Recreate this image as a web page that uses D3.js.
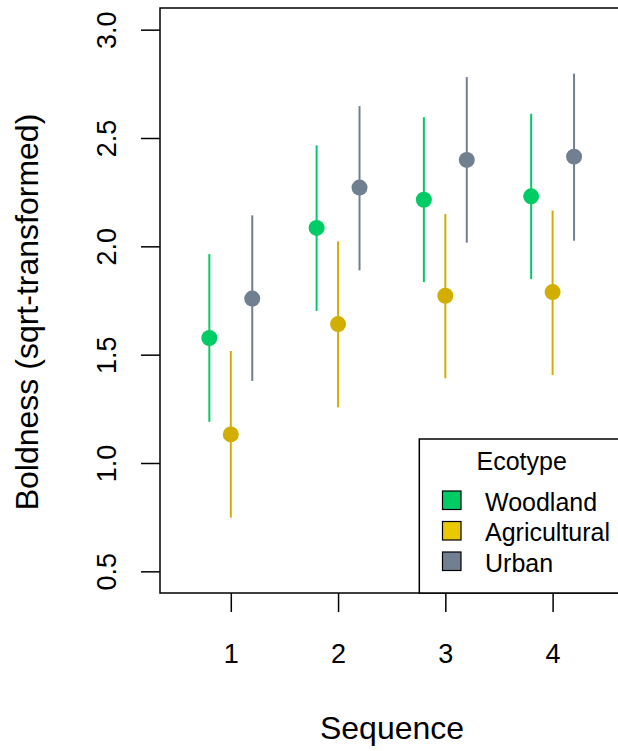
<!DOCTYPE html>
<html>
<head>
<meta charset="utf-8">
<script src="https://cdn.jsdelivr.net/npm/d3@7/dist/d3.min.js"></script>
<style>
  html, body { margin: 0; padding: 0; background: #fff; }
  svg { display: block; font-family: "Liberation Sans", Arial, sans-serif; }
</style>
</head>
<body>
<svg id="chart" width="618" height="751"></svg>
<script>
// ---- data ----
const sequences = [1, 2, 3, 4];
const ecotypes = ["Woodland", "Agricultural", "Urban"];
const offsets = [-0.2, 0, 0.2];
const pointColors = ["#00CC66", "#D2AE00", "#708090"];
const legendColors = ["#00CC66", "#EBC900", "#708090"];

const woodlandMean  = [1.577, 2.085, 2.215, 2.231];
const woodlandLower = [1.190, 1.702, 1.835, 1.849];
const woodlandUpper = [1.964, 2.466, 2.596, 2.612];

const agriMean  = [1.132, 1.641, 1.772, 1.789];
const agriLower = [0.748, 1.257, 1.391, 1.406];
const agriUpper = [1.517, 2.023, 2.149, 2.165];

const urbanMean  = [1.759, 2.271, 2.399, 2.414];
const urbanLower = [1.379, 1.889, 2.017, 2.026];
const urbanUpper = [2.143, 2.647, 2.781, 2.797];

const yTicks = [0.5, 1.0, 1.5, 2.0, 2.5, 3.0];
const xTicks = [1, 2, 3, 4];

const means  = [woodlandMean, agriMean, urbanMean];
const lowers = [woodlandLower, agriLower, urbanLower];
const uppers = [woodlandUpper, agriUpper, urbanUpper];

// ---- layout ----
const svg = d3.select("#chart");
const pLeft = 160, pRight = 623.4, pTop = 8, pBottom = 593;
const x = d3.scaleLinear().domain([0.34, 4.66]).range([pLeft, pRight]);
const y = d3.scaleLinear().domain([0.4, 3.1]).range([pBottom, pTop]);

// whiskers and points
ecotypes.forEach((e, i) => {
  const rows = sequences.map((s, j) => ({s, m: means[i][j], lo: lowers[i][j], hi: uppers[i][j]}));
  const g = svg.append("g");
  g.selectAll("line").data(rows).join("line")
    .attr("x1", d => x(d.s + offsets[i])).attr("x2", d => x(d.s + offsets[i]))
    .attr("y1", d => y(d.lo)).attr("y2", d => y(d.hi))
    .attr("stroke", pointColors[i]).attr("stroke-width", 2);
  g.selectAll("circle").data(rows).join("circle")
    .attr("cx", d => x(d.s + offsets[i])).attr("cy", d => y(d.m))
    .attr("r", 8).attr("fill", pointColors[i]);
});

// axes
const yAxis = svg.append("g").attr("transform", `translate(${pLeft},0)`)
  .call(d3.axisLeft(y).tickValues(yTicks).tickFormat(d3.format(".1f")).tickSize(19).tickSizeOuter(0));
yAxis.select(".domain").remove();
yAxis.selectAll("line").attr("stroke", "#000").attr("stroke-width", 1.5);
yAxis.selectAll("text")
  .attr("transform", "rotate(-90)")
  .attr("x", 0).attr("y", -44).attr("dy", 0)
  .attr("text-anchor", "middle")
  .attr("font-size", 27).attr("fill", "#000")
  .attr("font-family", "Liberation Sans, Arial, sans-serif");

const xAxis = svg.append("g").attr("transform", `translate(0,${pBottom})`)
  .call(d3.axisBottom(x).tickValues(xTicks).tickFormat(d3.format("d")).tickSize(19).tickSizeOuter(0));
xAxis.select(".domain").remove();
xAxis.selectAll("line").attr("stroke", "#000").attr("stroke-width", 1.5);
xAxis.selectAll("text")
  .attr("y", 70).attr("dy", 0)
  .attr("font-size", 27).attr("fill", "#000")
  .attr("font-family", "Liberation Sans, Arial, sans-serif");

// box
svg.append("rect").attr("x", pLeft).attr("y", pTop)
  .attr("width", pRight - pLeft).attr("height", pBottom - pTop)
  .attr("fill", "none").attr("stroke", "#000").attr("stroke-width", 1.5);

// axis titles
svg.append("text").attr("transform", "translate(37.5,312) rotate(-90)")
  .attr("text-anchor", "middle").attr("font-size", 32).attr("fill", "#000")
  .text("Boldness (sqrt-transformed)");
svg.append("text").attr("x", 392).attr("y", 739)
  .attr("text-anchor", "middle").attr("font-size", 32).attr("fill", "#000")
  .text("Sequence");

// legend
const lg = svg.append("g");
lg.append("rect").attr("x", 419.3).attr("y", 439).attr("width", 300).attr("height", pBottom - 439)
  .attr("fill", "#fff").attr("stroke", "#000").attr("stroke-width", 1.5);
lg.append("text").attr("x", 521.7).attr("y", 470).attr("text-anchor", "middle")
  .attr("font-size", 25).attr("fill", "#000").text("Ecotype");
const baselines = [510.5, 541, 571.5];
ecotypes.forEach((e, i) => {
  lg.append("rect").attr("x", 442.5).attr("y", baselines[i] - 19.5).attr("width", 18.5).attr("height", 18.5)
    .attr("fill", legendColors[i]).attr("stroke", "#000").attr("stroke-width", 1.2);
  lg.append("text").attr("x", 485).attr("y", baselines[i])
    .attr("font-size", 25).attr("fill", "#000").text(e);
});
</script>
</body>
</html>
